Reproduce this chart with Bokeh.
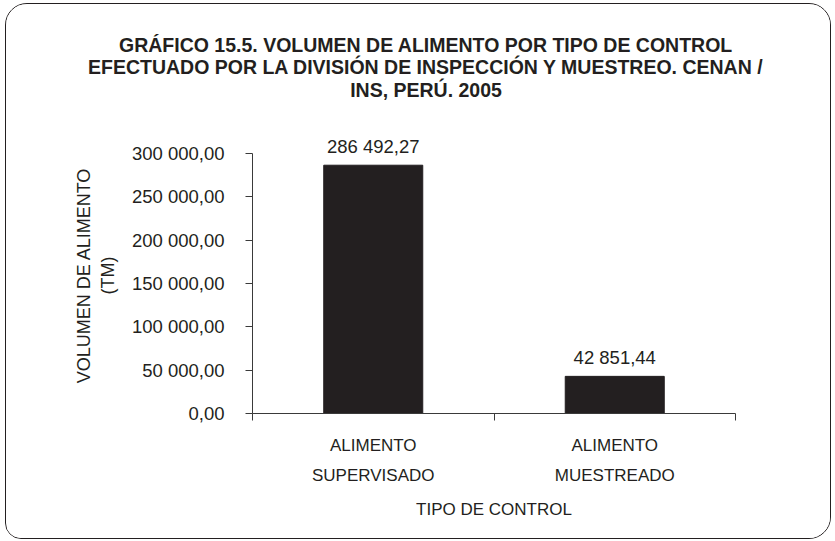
from bokeh.plotting import figure
from bokeh.layouts import column
from bokeh.models import ColumnDataSource, FixedTicker, Range1d, LabelSet, Label
from bokeh.core.properties import value
from bokeh.embed import file_html
from bokeh.resources import INLINE

# ---- data ----
categories = ["ALIMENTO\nSUPERVISADO", "ALIMENTO\nMUESTREADO"]
values = [286492.27, 42851.44]
y_ticks = [0, 50000, 100000, 150000, 200000, 250000, 300000]
title_lines = [
    "GRÁFICO 15.5. VOLUMEN DE ALIMENTO POR TIPO DE CONTROL",
    "EFECTUADO POR LA DIVISIÓN DE INSPECCIÓN Y MUESTREO. CENAN /",
    "INS, PERÚ. 2005",
]
x_title = "TIPO DE CONTROL"
y_title = "VOLUMEN DE ALIMENTO\n(TM)"


def fmt(v):
    s = f"{v:,.2f}"
    return s.replace(",", " ").replace(".", ",")


# ---- style / layout ----
FONT = "Liberation Sans"
INK = "#231f20"
AXIS = "#3a3a3a"
W = 824
TITLE_H = 100
MAIN_H = 434
MB_LEFT, MB_RIGHT, MB_TOP, MB_BOTTOM = 246, 95, 33, 125
AXIS_PX = 260  # pixel length of the value axis (0 .. top tick)

# ---- title block ----
tf = figure(width=W, height=TITLE_H, x_axis_type=None, y_axis_type=None,
            x_range=Range1d(0, 1), y_range=Range1d(0, 1),
            output_backend="svg", toolbar_location=None,
            min_border_left=0, min_border_right=0, min_border_top=0, min_border_bottom=0)
tf.frame_align = False
tf.outline_line_color = None
tf.background_fill_color = "white"
tf.border_fill_color = "white"
title_x = 419.5
title_y = [60, 37.5, 15]
for txt, ty in zip(title_lines, title_y):
    tf.add_layout(Label(x=title_x, y=ty, x_units="screen", y_units="screen",
                        text=txt, text_align="center", text_baseline="middle",
                        text_font=FONT, text_font_size="19.5px",
                        text_font_style="bold", text_color=INK))

# ---- main chart ----
positions = [i + 0.5 for i in range(len(categories))]
boundaries = list(range(len(categories) + 1))
frame_h = MAIN_H - MB_TOP - MB_BOTTOM
y_end = y_ticks[-1] * frame_h / AXIS_PX

p = figure(
    width=W, height=MAIN_H,
    x_range=Range1d(0, len(categories)),
    y_range=Range1d(y_ticks[0], y_end),
    output_backend="svg", toolbar_location=None,
    min_border_left=MB_LEFT, min_border_right=MB_RIGHT,
    min_border_top=MB_TOP, min_border_bottom=MB_BOTTOM,
)
p.frame_align = False
p.outline_line_color = None
p.xgrid.grid_line_color = None
p.ygrid.grid_line_color = None
p.background_fill_color = "white"
p.border_fill_color = "white"

src = ColumnDataSource(dict(x=positions, top=values, label=[fmt(v) for v in values]))
p.vbar(x="x", top="top", width=0.41, bottom=0, source=src,
       fill_color=INK, line_color=INK)

p.add_layout(LabelSet(x="x", y="top", text="label", source=src,
                      text_align="center", text_baseline="bottom", y_offset=8,
                      text_font=value(FONT), text_font_size="18.5px", text_color=INK))

# x axis
xa = p.xaxis[0]
xa.ticker = FixedTicker(ticks=positions, minor_ticks=boundaries)
xa.major_label_overrides = {pos: cat for pos, cat in zip(positions, categories)}
xa.major_tick_out = 0
xa.major_tick_in = 0
xa.minor_tick_out = 7
xa.minor_tick_in = 0
xa.minor_tick_line_color = AXIS
xa.axis_line_color = AXIS
xa.major_label_standoff = 15
xa.major_label_text_font = FONT
xa.major_label_text_font_size = "17px"
xa.major_label_text_line_height = 1.6
xa.major_label_text_color = INK
xa.axis_label = x_title
xa.axis_label_text_font = FONT
xa.axis_label_text_font_size = "17px"
xa.axis_label_text_font_style = "normal"
xa.axis_label_text_color = INK
xa.axis_label_standoff = 12

# y axis
ya = p.yaxis[0]
ya.bounds = (y_ticks[0], y_ticks[-1])
ya.ticker = FixedTicker(ticks=y_ticks, minor_ticks=[])
ya.major_label_overrides = {t: fmt(t) for t in y_ticks}
ya.major_tick_out = 7
ya.major_tick_in = 0
ya.major_tick_line_color = AXIS
ya.axis_line_color = AXIS
ya.major_label_standoff = 21
ya.major_label_text_font = FONT
ya.major_label_text_font_size = "18.5px"
ya.major_label_text_color = INK
ya.axis_label = y_title
ya.axis_label_text_font = FONT
ya.axis_label_text_font_size = "18px"
ya.axis_label_text_font_style = "normal"
ya.axis_label_text_color = INK
ya.axis_label_standoff = 11

layout = column(tf, p, spacing=0)
layout.styles = {
    "border": f"1.5px solid {INK}",
    "border-radius": "22px 22px 22px 16px",
    "margin-left": "5px",
    "margin-top": "3px",
    "overflow": "hidden",
    "background": "white",
}

open("out.html", "w").write(file_html(layout, INLINE))
